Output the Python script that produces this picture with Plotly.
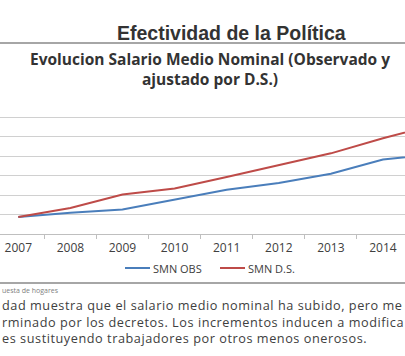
import plotly.graph_objects as go

# ---- data (y in arbitrary grid units) ----
years = ["2007", "2008", "2009", "2010", "2011", "2012", "2013", "2014", "2015"]
smn_obs = [0.88, 1.09, 1.26, 1.77, 2.28, 2.62, 3.10, 3.83, 4.10]
smn_ds = [0.88, 1.34, 2.03, 2.34, 2.93, 3.56, 4.15, 4.93, 5.63]
series_names = ["SMN OBS", "SMN D.S."]
series_colors = ["#4a7ebb", "#be4b48"]

W, H = 405, 356
L, R, T, B = 0, 0, 97, 122
PW, PH = W - L - R, H - T - B


def px(xp, yp):
    return (xp - L) / PW, (H - B - yp) / PH


fig = go.Figure()
for vals, name, col in zip([smn_obs, smn_ds], series_names, series_colors):
    fig.add_trace(go.Scatter(x=years, y=vals, mode="lines", name=name,
                             line=dict(color=col, width=2), showlegend=False))

fig.update_layout(
    width=W, height=H,
    margin=dict(l=L, r=R, t=T, b=B, pad=0, autoexpand=False),
    paper_bgcolor="white", plot_bgcolor="white",
    font=dict(family="Open Sans", color="#404040"),
    showlegend=False,
)
fig.update_xaxes(type="category", range=[-0.351, 7.423], tickson="boundaries",
                 ticks="outside", ticklen=4, tickcolor="#bfbfbf", automargin=False,
                 showline=True, linecolor="#bfbfbf", linewidth=1, ticklabelstandoff=3,
                 showgrid=False, tickfont=dict(size=12, family="Open Sans", color="#404040"))
fig.update_yaxes(range=[0, 7.05], dtick=1, showgrid=True, gridcolor="#d0d0d0", automargin=False,
                 gridwidth=1, showticklabels=False, zeroline=False, showline=False)

ann = []
shapes = []
x, y = px(231, 33)
ann.append(dict(text="<b>Efectividad de la Política</b>", x=x, y=y, xref="paper", yref="paper",
                showarrow=False, xanchor="center", yanchor="middle",
                font=dict(family="Liberation Sans", size=19.5, color="#333333")))
x, y = px(210, 69)
ann.append(dict(text="<b>Evolucion Salario Medio Nominal (Observado y<br>ajustado por D.S.)</b>",
                x=x, y=y, xref="paper", yref="paper", showarrow=False,
                xanchor="center", yanchor="middle",
                font=dict(family="Open Sans", size=15.5, color="#333333")))

# legend (manual, from the series names / colours)
leg_x = [125, 220]
for lx, name, col in zip(leg_x, series_names, series_colors):
    x0, y0 = px(lx, 268)
    x1, _ = px(lx + 25, 268)
    shapes.append(dict(type="line", xref="paper", yref="paper", x0=x0, x1=x1, y0=y0, y1=y0,
                       line=dict(color=col, width=2)))
    xt, _ = px(lx + 26, 268)
    ann.append(dict(text=name, x=xt, y=y0, xref="paper", yref="paper", showarrow=False,
                    xanchor="left", yanchor="middle",
                    font=dict(family="Open Sans", size=11, color="#404040")))

x, y = px(0, 290)
ann.append(dict(text="uesta de hogares", x=x, y=y, xref="paper", yref="paper",
                showarrow=False, xanchor="left", yanchor="middle",
                font=dict(family="Open Sans", size=7, color="#808080")))
body_lines = ["dad muestra que el salario medio nominal ha subido, pero me",
              "rminado por los decretos. Los incrementos inducen a modifica",
              "es sustituyendo trabajadores por otros menos onerosos."]
body = "<br>".join('<span style="letter-spacing:0.55px">%s</span>' % t for t in body_lines)
x, y = px(0, 321.5)
ann.append(dict(text=body, x=x, y=y, xref="paper", yref="paper", showarrow=False,
                xanchor="left", yanchor="middle", align="left",
                font=dict(family="Open Sans", size=12.7, color="#404040")))

for yy in (43, 283):
    _, y = px(0, yy)
    shapes.append(dict(type="line", xref="paper", yref="paper", x0=0, x1=1, y0=y, y1=y,
                       line=dict(color="#a6a6a6", width=2)))
fig.update_layout(annotations=ann, shapes=shapes)

fig.write_html("out.html", config={"displayModeBar": False},
               post_script="document.body.style.margin='0';document.body.style.overflow='hidden';")
